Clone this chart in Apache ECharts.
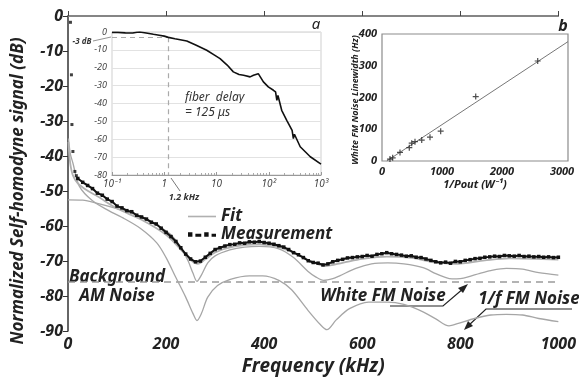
<!DOCTYPE html>
<html>
<head>
<meta charset="UTF-8">
<title>Self-homodyne spectrum</title>
<script src="https://cdn.jsdelivr.net/npm/echarts@6/dist/echarts.min.js"></script>
<style>
html, body { margin: 0; padding: 0; background: #fff; }
#chart { width: 579px; height: 381px; }
</style>
</head>
<body>
<div id="chart"></div>
<script>
// main plot: frequency (kHz) vs normalized signal (dB)
var measFreq = [20, 30, 40, 50, 60, 70, 80, 90, 100, 110, 120, 130, 140, 150, 160, 170, 180, 190, 200, 210,
	220, 230, 240, 250, 260, 270, 280, 290, 300, 310, 320, 330, 340, 350, 360, 370, 380, 390, 400, 410,
	420, 430, 440, 450, 460, 470, 480, 490, 500, 510, 520, 530, 540, 550, 560, 570, 580, 590, 600, 610,
	620, 630, 640, 650, 660, 670, 680, 690, 700, 710, 720, 730, 740, 750, 760, 770, 780, 790, 800, 810,
	820, 830, 840, 850, 860, 870, 880, 890, 900, 910, 920, 930, 940, 950, 960, 970, 980, 990, 1000];
var measDb = [-46.4, -47.5, -48.4, -49.3, -50.6, -51.2, -52.3, -53.0, -54.3, -54.8, -55.6, -55.9, -56.9, -57.4, -58.0, -58.9, -59.4, -60.6, -61.8, -63.0,
	-64.4, -66.2, -68.0, -69.4, -70.2, -70.0, -68.9, -67.8, -66.7, -66.2, -65.7, -65.3, -65.2, -64.8, -64.9, -64.5, -64.6, -64.4, -64.7, -64.9,
	-65.2, -65.6, -66.0, -66.7, -67.6, -68.2, -69.0, -69.9, -70.4, -70.6, -71.1, -70.8, -70.2, -69.8, -69.5, -69.1, -69.0, -68.8, -68.7, -68.4,
	-68.6, -68.1, -67.9, -67.6, -67.9, -68.1, -68.3, -68.6, -68.5, -68.9, -69.0, -69.4, -69.8, -70.2, -70.5, -70.3, -70.6, -70.1, -70.2, -69.8,
	-69.6, -69.3, -69.2, -68.9, -68.8, -68.6, -68.7, -68.4, -68.5, -68.6, -68.4, -68.7, -68.6, -68.8, -68.7, -68.9, -68.8, -69.0, -68.9];
// a few isolated measurement points near 0 kHz
var measLowFreq = [5, 7, 8, 10, 14, 17];
var measLowDb = [-1.8, -16.8, -31, -38.7, -44.4, -45.6];

var fitFreq = [1, 2, 5, 10, 20, 40, 60, 100, 150, 200, 230, 250, 265, 280, 300, 340, 390, 430, 470, 500,
	525, 560, 600, 650, 700, 750, 790, 850, 900, 1000];
var fitDb = [-36, -38.5, -42.5, -45.5, -47.8, -49.9, -51.5, -55.0, -58.2, -62.5, -66.7, -69.7, -70.8, -69.5, -67.5, -65.8, -65.2, -66.0, -68.2, -70.4,
	-71.4, -70.5, -69.4, -68.7, -69.1, -70.4, -70.8, -69.8, -69.2, -69.6];

var whiteFreq = [0, 30, 60, 100, 130, 160, 190, 210, 230, 245, 255, 263, 272, 285, 300, 330, 360, 390, 430, 460,
	489, 505, 521, 540, 554, 587, 619, 652, 685, 724, 750, 768, 783, 800, 816, 840, 862, 894, 927, 960, 1000];
var whiteDb = [-52.5, -52.6, -53.5, -55.0, -56.3, -58.3, -60.5, -62.5, -66.0, -70.0, -73.5, -75.8, -74.0, -70.5, -68.5, -66.8, -66.0, -65.8, -66.5, -69.0,
	-72.9, -74.5, -75.5, -75.0, -74.2, -72.1, -70.8, -70.5, -70.8, -71.9, -73.6, -74.6, -75.1, -75.0, -74.5, -73.5, -72.7, -72.1, -72.3, -73.3, -74.0];

var flickerFreq = [1, 2, 5, 10, 23, 50, 83, 115, 148, 181, 200, 220, 240, 255, 263, 272, 285, 305, 331, 370,
	397, 430, 456, 489, 515, 528, 547, 574, 613, 652, 685, 724, 750, 777, 796, 829, 862, 894, 927, 960, 1000];
var flickerDb = [-35, -36.5, -39.5, -42, -48.6, -52.8, -55.6, -57.9, -60.7, -64.8, -69.0, -74.7, -80.3, -85.0, -87.0, -85.0, -80.3, -77.0, -75.2, -74.2,
	-74.2, -75.5, -78.2, -84.0, -88.2, -89.6, -86.8, -83.6, -81.7, -81.7, -82.4, -84.5, -86.5, -88.5, -87.8, -86.4, -85.4, -85.2, -85.4, -86.4, -87.3];

var amNoiseDb = -76;

// inset a: delay response, log frequency (kHz)
var insetFreq = [0.1, 0.13, 0.18, 0.25, 0.3, 0.34, 0.45, 0.62, 0.8, 1, 1.2, 1.6, 2.7, 4, 6.5, 9, 11.7, 16, 21, 27,
	33, 44, 51, 63, 79, 98, 123, 135, 143, 150, 177, 221, 280, 296, 310, 400, 624, 1000];
var insetDb = [-0.2, -0.2, -0.5, -0.6, -0.1, 0, -0.6, -1.3, -1.8, -2.3, -3.0, -3.8, -5.0, -7.3, -10.2, -12.8, -14.9, -18.5, -22.3, -23.8,
	-24.2, -25.1, -24.2, -23.3, -27.9, -30.7, -32.6, -33.5, -38.2, -35.5, -43.8, -49.4, -55.0, -59.6, -57.2, -64.2, -69.8, -73.9];
var cutoffFreq = 1.2;
var cutoffDb = -3;

// inset b: white FM linewidth vs 1/Pout
var invPower = [133, 178, 300, 455, 495, 550, 662, 800, 978, 1562, 2595];
var linewidth = [6, 10, 27, 42, 56, 61, 66, 75, 94, 203, 315];
var lineFitX = [80, 3100];
var lineFitY = [0, 376];

function zip(a, b) {
	var out = [];
	for (var i = 0; i < a.length; i++) out.push([a[i], b[i]]);
	return out;
}

var FONT = '"Noto Sans", "Open Sans", sans-serif';
var GRAY = '#a6a6a6';
var plain = function(v) { return String(v); };

var myChart = echarts.init(document.getElementById('chart'), null, {renderer: 'canvas'});

var option = {
	animation: false,
	backgroundColor: '#fff',
	textStyle: {fontFamily: FONT},
	grid: [
		{left: 68, top: 16, width: 509, height: 322},
		{left: 112, top: 32, width: 209, height: 143, show: true, borderColor: '#cfcfcf', borderWidth: 1, backgroundColor: '#fff'},
		{left: 382, top: 34, width: 186, height: 127, show: true, borderColor: '#8c8c8c', borderWidth: 1.2, backgroundColor: '#fff'}
	],
	legend: {
		data: [
			{name: 'Fit', icon: 'path://M0,4H26V5.5H0Z'},
			{name: 'Measurement', icon: 'path://M0,3H3V6H0ZM5,4H9V6H5ZM11,3H14V6H11ZM16,4H19V6H16Z'}
		],
		orient: 'vertical',
		left: 183,
		top: 203,
		itemWidth: 28,
		itemHeight: 8,
		itemGap: 1,
		textStyle: {fontFamily: FONT, fontSize: 17, fontWeight: 'bold', fontStyle: 'italic', color: '#222', lineHeight: 17}
	},
	xAxis: [
		{
			gridIndex: 0, type: 'value', min: 0, max: 1000, interval: 200,
			axisLine: {lineStyle: {color: '#555', width: 1.5}},
			axisTick: {inside: true, length: 5, lineStyle: {color: '#444'}},
			axisLabel: {margin: 5, fontSize: 16, fontWeight: 'bold', fontStyle: 'italic', color: '#222', formatter: plain},
			splitLine: {show: false},
			name: 'Frequency (kHz)', nameLocation: 'middle', nameGap: 22,
			nameTextStyle: {fontSize: 19, fontWeight: 'bold', fontStyle: 'italic', color: '#222'}
		},
		{
			gridIndex: 0, type: 'value', min: 0, max: 1000, position: 'top',
			axisLine: {lineStyle: {color: '#888', width: 1.5}},
			axisTick: {show: false}, axisLabel: {show: false}, splitLine: {show: false}
		},
		{
			gridIndex: 1, type: 'log', logBase: 10, min: 0.1, max: 1000,
			axisLine: {onZero: false, lineStyle: {color: '#999', width: 1}},
			axisTick: {inside: true, length: 3, lineStyle: {color: '#999'}},
			minorTick: {show: true, splitNumber: 9, length: 2, lineStyle: {color: '#aaa'}},
			axisLabel: {margin: 4, fontSize: 10, fontStyle: 'italic', color: '#444',
				formatter: function(v) {
					var e = Math.round(Math.log10(v));
					return {'-1': '10⁻¹', '0': '1', '1': '10', '2': '10²', '3': '10³'}[e];
				}},
			splitLine: {show: false}
		},
		{
			gridIndex: 2, type: 'value', min: 0, max: 3100, interval: 1000,
			axisLine: {show: false}, axisTick: {show: false},
			axisLabel: {margin: 5, fontSize: 11, fontWeight: 'bold', fontStyle: 'italic', color: '#222', showMaxLabel: false, formatter: plain},
			splitLine: {show: false},
			name: '1/Pout (W⁻¹)', nameLocation: 'middle', nameGap: 18,
			nameTextStyle: {fontSize: 11, fontWeight: 'bold', fontStyle: 'italic', color: '#222'}
		}
	],
	yAxis: [
		{
			gridIndex: 0, type: 'value', min: -90, max: 0, interval: 10,
			axisLine: {show: true, lineStyle: {color: '#333', width: 1.5}},
			axisTick: {show: true, inside: false, length: 5, lineStyle: {color: '#333'}},
			axisLabel: {margin: 5, fontSize: 16, fontWeight: 'bold', fontStyle: 'italic', color: '#222'},
			splitLine: {show: false}
		},
		{
			gridIndex: 1, type: 'value', min: -80, max: 0, interval: 10,
			axisLine: {show: false}, axisTick: {show: false},
			axisLabel: {margin: 5, fontSize: 9, fontStyle: 'italic', color: '#444'},
			splitLine: {show: true, lineStyle: {color: '#e2e2e2', width: 1}}
		},
		{
			gridIndex: 2, type: 'value', min: 0, max: 400, interval: 100,
			axisLine: {show: false}, axisTick: {show: false},
			axisLabel: {margin: 5, fontSize: 11, fontWeight: 'bold', fontStyle: 'italic', color: '#222'},
			splitLine: {show: false}
		}
	],
	series: [
		{
			name: 'Background AM Noise', type: 'line', xAxisIndex: 0, yAxisIndex: 0,
			data: [[0, amNoiseDb], [1000, amNoiseDb]],
			symbol: 'none', lineStyle: {color: '#9a9a9a', width: 1.5, type: [7, 5]}, z: 1
		},
		{
			name: 'White FM Noise', type: 'line', xAxisIndex: 0, yAxisIndex: 0,
			data: zip(whiteFreq, whiteDb), smooth: 0.3,
			symbol: 'none', lineStyle: {color: GRAY, width: 1.3}, z: 2
		},
		{
			name: '1/f FM Noise', type: 'line', xAxisIndex: 0, yAxisIndex: 0,
			data: zip(flickerFreq, flickerDb), smooth: 0.3,
			symbol: 'none', lineStyle: {color: GRAY, width: 1.3}, z: 2
		},
		{
			name: 'Fit', type: 'line', xAxisIndex: 0, yAxisIndex: 0,
			data: zip(fitFreq, fitDb), smooth: 0.3,
			symbol: 'none', color: '#b0b0b0', lineStyle: {color: '#b0b0b0', width: 1.8}, z: 3
		},
		{
			name: 'Measurement', type: 'line', xAxisIndex: 0, yAxisIndex: 0,
			data: zip(measFreq, measDb),
			symbol: 'rect', symbolSize: 3.5, showSymbol: true, color: '#111',
			itemStyle: {color: '#111'}, lineStyle: {color: '#111', width: 2}, z: 4
		},
		{
			name: 'measurement low', type: 'scatter', xAxisIndex: 0, yAxisIndex: 0,
			data: zip(measLowFreq, measLowDb),
			symbol: 'rect', symbolSize: 3, itemStyle: {color: '#111'}, z: 4
		},
		{
			name: 'delay response', type: 'line', xAxisIndex: 2, yAxisIndex: 1,
			data: zip(insetFreq, insetDb),
			symbol: 'none', lineStyle: {color: '#111', width: 1.6}, z: 5,
			markLine: {
				silent: true, symbol: 'none', label: {show: false},
				lineStyle: {color: '#aaa', width: 1.2, type: [5, 4]},
				data: [
					[{coord: [0.1, cutoffDb]}, {coord: [cutoffFreq, cutoffDb]}],
					[{coord: [cutoffFreq, cutoffDb]}, {coord: [cutoffFreq, -80]}]
				]
			}
		},
		{
			name: 'linear fit', type: 'line', xAxisIndex: 3, yAxisIndex: 2,
			data: zip(lineFitX, lineFitY),
			symbol: 'none', lineStyle: {color: '#777', width: 1}, z: 5
		},
		{
			name: 'linewidth', type: 'scatter', xAxisIndex: 3, yAxisIndex: 2,
			data: zip(invPower, linewidth),
			symbol: 'path://M4,0H6V4H10V6H6V10H4V6H0V4H4Z', symbolSize: 6,
			itemStyle: {color: '#222'}, z: 6
		}
	],
	graphic: [
		{type: 'text', x: 18, y: 191, rotation: Math.PI / 2,
			style: {text: 'Normalized Self-homodyne signal (dB)', fontFamily: FONT, fontSize: 17, fontWeight: 'bold', fontStyle: 'italic',
				fill: '#222', align: 'center', verticalAlign: 'middle'}},
		{type: 'text', x: 355, y: 100, rotation: Math.PI / 2,
			style: {text: 'White FM Noise Linewidth (Hz)', fontFamily: FONT, fontSize: 9, fontWeight: 'bold', fontStyle: 'italic',
				fill: '#222', align: 'center', verticalAlign: 'middle'}},
		{type: 'text', x: 316, y: 25,
			style: {text: 'a', fontFamily: FONT, fontSize: 15, fontStyle: 'italic', fill: '#222', align: 'center', verticalAlign: 'middle'}},
		{type: 'text', x: 563, y: 26,
			style: {text: 'b', fontFamily: FONT, fontSize: 16, fontWeight: 'bold', fontStyle: 'italic', fill: '#222', align: 'center', verticalAlign: 'middle'}},
		{type: 'text', x: 185, y: 98,
			style: {text: 'fiber  delay', fontFamily: FONT, fontSize: 12, fontStyle: 'italic', fill: '#333', verticalAlign: 'middle'}},
		{type: 'text', x: 185, y: 113,
			style: {text: '= 125 μs', fontFamily: FONT, fontSize: 12, fontStyle: 'italic', fill: '#333', verticalAlign: 'middle'}},
		{type: 'text', x: 82, y: 42,
			style: {text: '-3 dB', fontFamily: FONT, fontSize: 8, fontWeight: 'bold', fontStyle: 'italic', fill: '#333', align: 'center', verticalAlign: 'middle'}},
		{type: 'line', shape: {x1: 93, y1: 41, x2: 111, y2: 37}, style: {stroke: '#777', lineWidth: 0.8}},
		{type: 'text', x: 184, y: 197,
			style: {text: '1.2 kHz', fontFamily: FONT, fontSize: 9, fontWeight: 'bold', fontStyle: 'italic', fill: '#333', align: 'center', verticalAlign: 'middle'}},
		{type: 'line', shape: {x1: 180, y1: 191, x2: 171, y2: 178}, style: {stroke: '#555', lineWidth: 0.8}},
		{type: 'text', x: 117, y: 277,
			style: {text: 'Background', fontFamily: FONT, fontSize: 17, fontWeight: 'bold', fontStyle: 'italic', fill: '#222', align: 'center', verticalAlign: 'middle'}},
		{type: 'text', x: 117, y: 296,
			style: {text: 'AM Noise', fontFamily: FONT, fontSize: 17, fontWeight: 'bold', fontStyle: 'italic', fill: '#222', align: 'center', verticalAlign: 'middle'}},
		{type: 'text', x: 383, y: 296,
			style: {text: 'White FM Noise', fontFamily: FONT, fontSize: 17, fontWeight: 'bold', fontStyle: 'italic', fill: '#222', align: 'center', verticalAlign: 'middle'}},
		{type: 'polyline', shape: {points: [[390, 306], [443, 306], [464, 288]]}, style: {stroke: '#222', lineWidth: 1.2, fill: null}},
		{type: 'polygon', shape: {points: [[468, 284], [458, 288], [463, 293]]}, style: {fill: '#222'}},
		{type: 'text', x: 529, y: 299,
			style: {text: '1/f FM Noise', fontFamily: FONT, fontSize: 17, fontWeight: 'bold', fontStyle: 'italic', fill: '#222', align: 'center', verticalAlign: 'middle'}},
		{type: 'polyline', shape: {points: [[572, 309], [486, 309], [468, 326]]}, style: {stroke: '#222', lineWidth: 1.2, fill: null}},
		{type: 'polygon', shape: {points: [[464, 330], [468, 321], [473, 326]]}, style: {fill: '#222'}}
	]
};

myChart.setOption(option);
</script>
</body>
</html>
